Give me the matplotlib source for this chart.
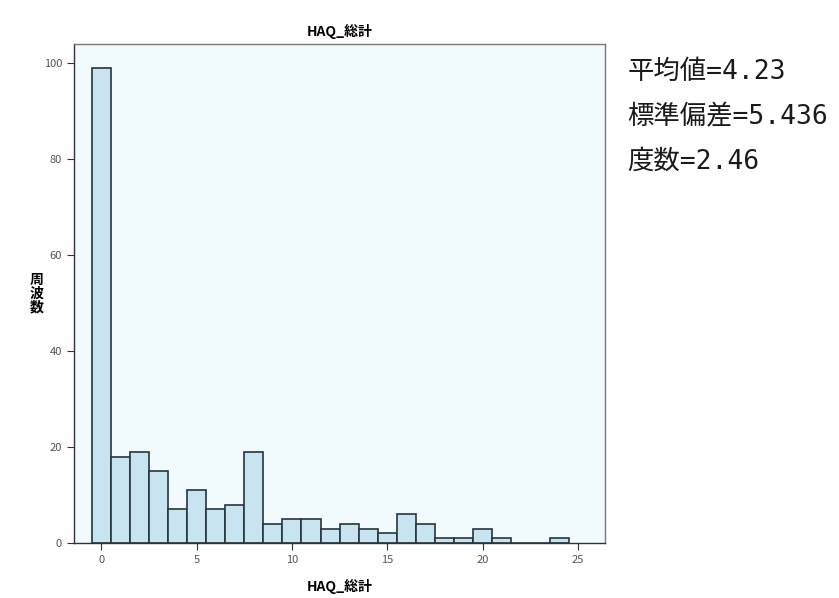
import numpy as np
import matplotlib.pyplot as plt

plt.rcParams['font.family'] = ['Noto Sans CJK JP', 'DejaVu Sans']

# ===========================
# データ
# ===========================

values = np.arange(0, 25)
counts = [99, 18, 19, 15, 7, 11, 7, 8, 19, 4, 5, 5, 3, 4, 3, 2, 6, 4, 1, 1, 3, 1, 0, 0, 1]

stats_lines = ["平均値=4.23", "標準偏差=5.436", "度数=2.46"]

title = "HAQ_総計"
x_label = "HAQ_総計"
y_label = "周\n波\n数"

x_ticks = [0, 5, 10, 15, 20, 25]
y_ticks = [0, 20, 40, 60, 80, 100]

# ===========================
# 描画
# ===========================

fig = plt.figure(figsize=(8.39, 5.98), dpi=100)
ax = fig.add_axes([0.088, 0.092, 0.633, 0.834])

ax.set_facecolor("#f1fafc")

ax.bar(
    values,
    counts,
    width=1.0,
    color="#c9e4f1",
    edgecolor="#26363c",
    linewidth=1.2
)

ax.set_xlim(-1.43, 26.4)
ax.set_ylim(0, 104)

ax.set_xticks(x_ticks)
ax.set_yticks(y_ticks)
ax.tick_params(direction="out", length=5, width=0.8, colors="#333333",
               labelsize=8, labelcolor="#555555")

for side in ["left", "bottom"]:
    ax.spines[side].set_color("#333333")
    ax.spines[side].set_linewidth(1.0)
for side in ["top", "right"]:
    ax.spines[side].set_color("#777777")
    ax.spines[side].set_linewidth(1.0)

ax.set_title(title, fontsize=10, fontweight="bold", pad=6)
ax.set_xlabel(x_label, fontsize=10, fontweight="bold", labelpad=10)
ax.set_ylabel(y_label, fontsize=10, fontweight="bold", rotation=0,
              va="center", labelpad=5, linespacing=1.0)

# 右側の統計量（等幅の数字）
for i, line in enumerate(stats_lines):
    fig.text(0.748, 0.879 - i * 0.0745, line, fontsize=19,
             family=['DejaVu Sans Mono', 'Noto Sans CJK JP'],
             va="center", ha="left", color="#1a1a1a")

plt.savefig("out.png", dpi=100)
